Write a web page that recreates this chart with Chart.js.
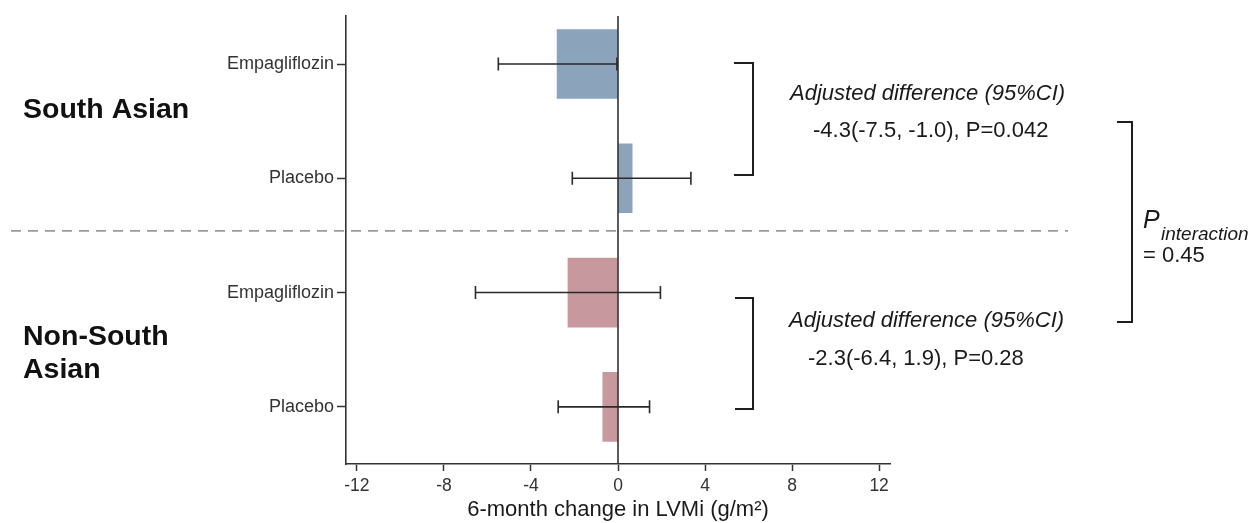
<!DOCTYPE html>
<html>
<head>
<meta charset="utf-8">
<script src="https://cdn.jsdelivr.net/npm/chart.js@4.4.1/dist/chart.umd.min.js"></script>
<style>
  html, body { margin: 0; padding: 0; background: #ffffff; }
  #wrap { width: 1253px; height: 523px; position: relative; }
</style>
</head>
<body>
<div id="wrap"><canvas id="c" width="1253" height="523"></canvas></div>
<script>
// ---- data ----
const groupNames = ['South Asian', 'Non-South Asian'];
const armLabels = ['Empagliflozin', 'Placebo', 'Empagliflozin', 'Placebo'];
const armPositions = [1, 2, 3, 4];
const meanChange = [-2.8, 0.65, -2.3, -0.7];
const ciLower = [-5.5, -2.1, -6.55, -2.75];
const ciUpper = [-0.05, 3.35, 1.95, 1.45];
const barColors = ['#8ba3bb', '#8ba3bb', '#c7989d', '#c7989d'];
const xTickValues = [-12, -8, -4, 0, 4, 8, 12];
const adjSA = ['Adjusted difference (95%CI)', '-4.3(-7.5, -1.0), P=0.042'];
const adjNSA = ['Adjusted difference (95%CI)', '-2.3(-6.4, 1.9), P=0.28'];
const interactionText = ['P', 'interaction', '= 0.45'];
const xTitle = '6-month change in LVMi (g/m\u00B2)';

const FONT = '"Liberation Sans", Arial, Helvetica, sans-serif';
const AXIS = '#333333';

const overlay = {
  id: 'overlay',
  afterDatasetsDraw(chart) {
    const { ctx, chartArea, scales: { x, y } } = chart;
    ctx.save();
    // zero reference line
    const x0 = x.getPixelForValue(0);
    ctx.strokeStyle = AXIS;
    ctx.lineWidth = 1.6;
    ctx.beginPath();
    ctx.moveTo(x0, chartArea.top);
    ctx.lineTo(x0, chartArea.bottom);
    ctx.stroke();
    // error bars
    ctx.strokeStyle = '#2a2a2a';
    ctx.lineWidth = 1.6;
    for (let i = 0; i < armPositions.length; i++) {
      const py = y.getPixelForValue(armPositions[i]);
      const xl = x.getPixelForValue(ciLower[i]);
      const xr = x.getPixelForValue(ciUpper[i]);
      ctx.beginPath();
      ctx.moveTo(xl, py); ctx.lineTo(xr, py);
      ctx.moveTo(xl, py - 6.5); ctx.lineTo(xl, py + 6.5);
      ctx.moveTo(xr, py - 6.5); ctx.lineTo(xr, py + 6.5);
      ctx.stroke();
    }
    ctx.restore();
  },
  afterDraw(chart) {
    const { ctx, scales: { y } } = chart;
    ctx.save();
    // dashed separator
    const yd = y.getPixelForValue(2.46);
    ctx.strokeStyle = '#9a9a9a';
    ctx.lineWidth = 1.6;
    ctx.setLineDash([10, 7]);
    ctx.beginPath();
    ctx.moveTo(11, yd); ctx.lineTo(1068, yd);
    ctx.stroke();
    ctx.setLineDash([]);

    // brackets
    ctx.strokeStyle = '#1e1e1e';
    ctx.lineWidth = 2;
    const bracket = (xl, xr, yt, yb) => {
      ctx.beginPath();
      ctx.moveTo(xl, yt); ctx.lineTo(xr, yt); ctx.lineTo(xr, yb); ctx.lineTo(xl, yb);
      ctx.stroke();
    };
    bracket(734, 753, 63, 175);
    bracket(735, 753, 298, 409);
    bracket(1117, 1132, 122, 322);

    // group labels
    ctx.fillStyle = '#111111';
    ctx.textBaseline = 'alphabetic';
    ctx.textAlign = 'left';
    ctx.font = 'bold 28.5px ' + FONT;
    ctx.fillText(groupNames[0], 23, 118);
    const nsa = groupNames[1].split(' ');
    ctx.fillText(nsa[0], 23, 345);
    ctx.fillText(nsa[1], 23, 378);

    // adjusted differences
    ctx.fillStyle = '#1a1a1a';
    ctx.font = 'italic 22px ' + FONT;
    ctx.fillText(adjSA[0], 790, 100);
    ctx.fillText(adjNSA[0], 789, 327);
    ctx.font = '22px ' + FONT;
    ctx.fillText(adjSA[1], 813, 137);
    ctx.fillText(adjNSA[1], 808, 365);

    // interaction p
    ctx.font = 'italic 25px ' + FONT;
    ctx.fillText(interactionText[0], 1143, 228);
    ctx.font = 'italic 19px ' + FONT;
    ctx.fillText(interactionText[1], 1161, 240);
    ctx.font = '22px ' + FONT;
    ctx.fillText(interactionText[2], 1143, 262);
    ctx.restore();
  }
};

new Chart(document.getElementById('c'), {
  type: 'bar',
  data: {
    datasets: [{
      data: armPositions.map((p, i) => ({ x: meanChange[i], y: p })),
      backgroundColor: barColors,
      borderWidth: 0,
      barThickness: 69
    }]
  },
  options: {
    indexAxis: 'y',
    responsive: false,
    animation: false,
    layout: { padding: { left: 0, right: 363, top: 16, bottom: 0 } },
    plugins: { legend: { display: false }, tooltip: { enabled: false } },
    scales: {
      x: {
        type: 'linear',
        min: -12.5,
        max: 12.5,
        afterBuildTicks: (s) => { s.ticks = xTickValues.map(v => ({ value: v })); },
        afterFit: (s) => { s.height = 59; },
        ticks: {
          color: AXIS,
          font: { family: FONT, size: 17.5 },
          padding: 5,
          maxRotation: 0,
          callback: (v) => String(v)
        },
        grid: { drawOnChartArea: false, drawTicks: true, tickLength: 7, tickColor: AXIS, tickWidth: 1.5 },
        border: { display: true, color: AXIS, width: 1.6 },
        title: {
          display: true,
          text: xTitle,
          color: '#1a1a1a',
          font: { family: FONT, size: 22 },
          padding: { top: 0, bottom: 0 }
        }
      },
      y: {
        type: 'linear',
        reverse: true,
        offset: false,
        min: 0.58,
        max: 4.5,
        afterBuildTicks: (s) => { s.ticks = armPositions.map(v => ({ value: v })); },
        afterFit: (s) => { s.width = 346; },
        ticks: {
          color: AXIS,
          font: { family: FONT, size: 18 },
          padding: 3,
          callback: (v) => armLabels[armPositions.indexOf(v)]
        },
        grid: { offset: false, drawOnChartArea: false, drawTicks: true, tickLength: 9, tickColor: AXIS, tickWidth: 1.5 },
        border: { display: true, color: AXIS, width: 1.6 }
      }
    }
  },
  plugins: [overlay]
});
</script>
</body>
</html>
